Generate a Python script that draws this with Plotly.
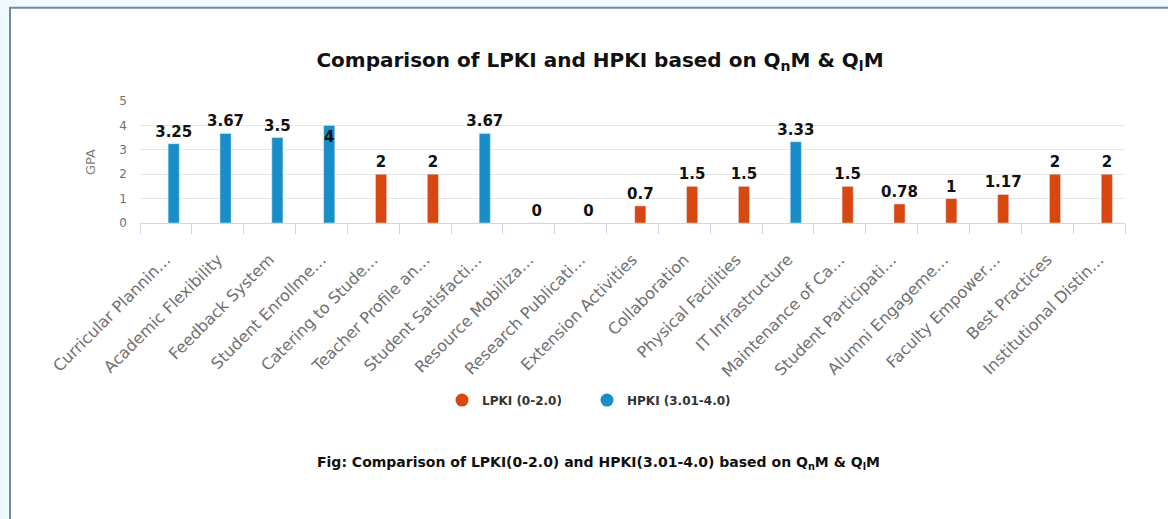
import plotly.graph_objects as go

categories = [
    "Curricular Plannin…", "Academic Flexibility", "Feedback System", "Student Enrollme…",
    "Catering to Stude…", "Teacher Profile an…", "Student Satisfacti…", "Resource Mobiliza…",
    "Research Publicati…", "Extension Activities", "Collaboration", "Physical Facilities",
    "IT Infrastructure", "Maintenance of Ca…", "Student Participati…", "Alumni Engageme…",
    "Faculty Empower…", "Best Practices", "Institutional Distin…",
]
lpki = [None, None, None, None, 2, 2, None, 0, 0, 0.7, 1.5, 1.5, None, 1.5, 0.78, 1, 1.17, 2, 2]
hpki = [3.25, 3.67, 3.5, 4, None, None, 3.67, None, None, None, None, None, 3.33,
        None, None, None, None, None, None]
hpki_textpos = ["inside" if v == 4 else "outside" for v in hpki]

RED = "#d8470f"
BLUE = "#188ec8"
FONT = "DejaVu Sans"

W, H = 1168, 519
L, R, T, B = 140, 1125, 100.5, 223.5
pw, ph = R - L, B - T


def px2x(px):
    return (px - L) / pw


def py2y(py):
    return (B - py) / ph


fig = go.Figure()
label_font = dict(family=FONT, size=15, color="#111111", weight="bold")
common = dict(width=0.215, offset=-0.1075 + 0.15, cliponaxis=False, showlegend=False,
              textfont=label_font, outsidetextfont=label_font, insidetextfont=label_font,
              constraintext="none", hoverinfo="x+y")
fig.add_trace(go.Bar(x=categories, y=lpki, marker_color=RED, name="LPKI (0-2.0)",
                     text=[("" if v is None else f"{v:g}") for v in lpki],
                     textposition="outside", **common))
fig.add_trace(go.Bar(x=categories, y=hpki, marker_color=BLUE, name="HPKI (3.01-4.0)",
                     text=[("" if v is None else f"{v:g}") for v in hpki],
                     textposition=hpki_textpos, insidetextanchor="end", **common))
# legend entries with circle symbols
fig.add_trace(go.Scatter(x=[None], y=[None], mode="markers", name="LPKI (0-2.0)",
                         marker=dict(symbol="circle", size=13, color=RED)))
fig.add_trace(go.Scatter(x=[None], y=[None], mode="markers", name="HPKI (3.01-4.0)",
                         marker=dict(symbol="circle", size=13, color=BLUE)))

shapes = [
    dict(type="rect", xref="paper", yref="paper", x0=px2x(10), x1=px2x(W + 20),
         y0=py2y(H + 20), y1=py2y(7), fillcolor="white", line_width=0, layer="below"),
    dict(type="line", xref="paper", yref="paper", x0=px2x(10), x1=px2x(10),
         y0=py2y(H + 20), y1=py2y(6), line=dict(color="#7585a6", width=2), layer="below"),
    dict(type="line", xref="paper", yref="paper", x0=px2x(9), x1=px2x(W + 20),
         y0=py2y(6.5), y1=py2y(6.5), line=dict(color="#7585a6", width=2), layer="below"),
]

fig.update_layout(
    width=W, height=H,
    margin=dict(l=L, r=W - R, t=T, b=H - B, autoexpand=False),
    paper_bgcolor="#eefaff", plot_bgcolor="rgba(0,0,0,0)",
    barmode="overlay",
    font=dict(family=FONT, color="#666666", size=12),
    title=dict(text="Comparison of LPKI and HPKI based on Q<sub>n</sub>M &amp; Q<sub>l</sub>M",
               xref="container", yref="container", x=600 / W, xanchor="center",
               y=1 - 60 / H, yanchor="middle",
               font=dict(family=FONT, size=20, color="#111111", weight="bold")),
    xaxis=dict(type="category", range=[-0.5, len(categories) - 0.5], showgrid=False,
               showline=True, linecolor="#ccd6eb", linewidth=1,
               ticks="outside", tickson="boundaries", ticklen=10, tickcolor="#ccd6eb",
               tickangle=-45, ticklabelstandoff=20,
               tickfont=dict(family=FONT, size=16, color="#707070")),
    yaxis=dict(range=[0, 5], dtick=1, showgrid=True, gridcolor="#e6e6e6", zeroline=False,
               showline=False, ticklabelstandoff=12,
               tickfont=dict(family=FONT, size=12, color="#707070"),
               title=dict(text="GPA", standoff=20, font=dict(family=FONT, size=13, color="#808080"))),
    legend=dict(orientation="h", x=px2x(587), xanchor="center", y=py2y(402), yanchor="middle",
                bgcolor="rgba(0,0,0,0)", entrywidth=100,
                font=dict(family=FONT, size=12, color="#333333", weight="bold"),
                itemsizing="trace"),
    shapes=shapes,
    annotations=[dict(text="Fig: Comparison of LPKI(0-2.0) and HPKI(3.01-4.0) based on Q<sub>n</sub>M &amp; Q<sub>l</sub>M",
                      xref="paper", yref="paper", x=px2x(598), y=py2y(465), xanchor="center",
                      yanchor="middle", showarrow=False,
                      font=dict(family=FONT, size=14, color="#111111", weight="bold"))],
)

fig.write_html("out.html", config={"displayModeBar": False},
               post_script="document.body.style.margin='0';document.body.style.padding='0';"
                           "document.body.style.background='#eefaff';")
